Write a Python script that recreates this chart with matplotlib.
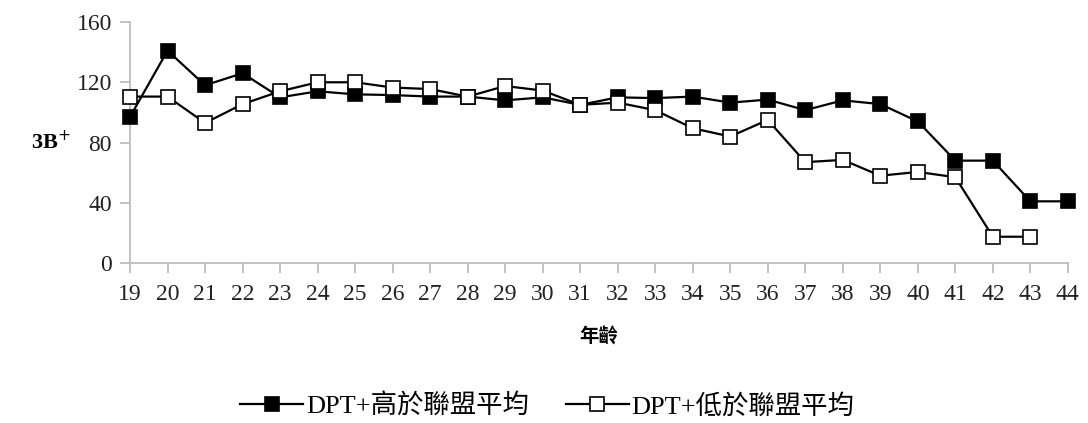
import matplotlib
matplotlib.use("Agg")
import matplotlib.pyplot as plt
from matplotlib.ticker import MultipleLocator

plt.rcParams['font.family'] = ['Liberation Serif', 'Noto Sans CJK TC']

ages = list(range(19, 45))
above_avg = [97, 141, 118, 126, 110, 114, 112, 111.5, 110.5, 110.5, 108, 110,
             105, 110, 109.5, 110.5, 106.5, 108.5, 101.5, 108, 105.5, 94,
             68, 68, 41, 41]
below_avg = [110.5, 110.5, 93, 105.5, 114, 120, 120, 116.5, 115.5, 110.5,
             117.5, 114.5, 105, 106.5, 101.5, 89.5, 84, 95, 67, 68.5, 58,
             60.5, 57, 17.5, 17.5]
label_above = "DPT+高於聯盟平均"
label_below = "DPT+低於聯盟平均"

fig = plt.figure(figsize=(10.88, 4.23), dpi=100)
ax = fig.add_axes([0.1195, 0.378, 0.862, 0.570])

ax.plot(ages, above_avg, color='black', lw=1.6, marker='s', ms=9.5,
        mfc='black', mec='black', mew=1.2, label=label_above, zorder=3,
        clip_on=False)
ax.plot(ages[:len(below_avg)], below_avg, color='black', lw=1.6, marker='s',
        ms=9.5, mfc='white', mec='black', mew=1.2, label=label_below, zorder=4,
        clip_on=False)

ax.set_xlim(19, 44)
ax.set_ylim(0, 160)
ax.set_xticks(ages)
ax.yaxis.set_major_locator(MultipleLocator(40))

for side in ('top', 'right'):
    ax.spines[side].set_visible(False)
for side in ('left', 'bottom'):
    ax.spines[side].set_color('#bdbdbd')
    ax.spines[side].set_linewidth(1.3)
ax.tick_params(axis='both', colors='#bdbdbd', width=1.3, length=7,
               labelcolor='#222222', labelsize=17)
ax.tick_params(axis='x', pad=8)
ax.tick_params(axis='y', pad=6)

ax.set_xlabel("年齡", fontsize=14, fontweight='bold', labelpad=16,
              family=['Noto Sans CJK TC'])
ax.set_ylabel("3B$^{+}$", fontsize=16, fontweight='bold', rotation=0,
              labelpad=30, va='center')
ax.yaxis.set_label_coords(-0.085, 0.5)

fig.legend(loc='center', bbox_to_anchor=(0.503, 0.04), ncol=2, frameon=False,
           fontsize=19, handlelength=2.4, columnspacing=1.4, handletextpad=0.1,
           prop={'family': ['Liberation Serif', 'Noto Sans CJK TC'],
                 'size': 19, 'weight': 'light'})

fig.savefig("out.png", dpi=100, facecolor='white')
